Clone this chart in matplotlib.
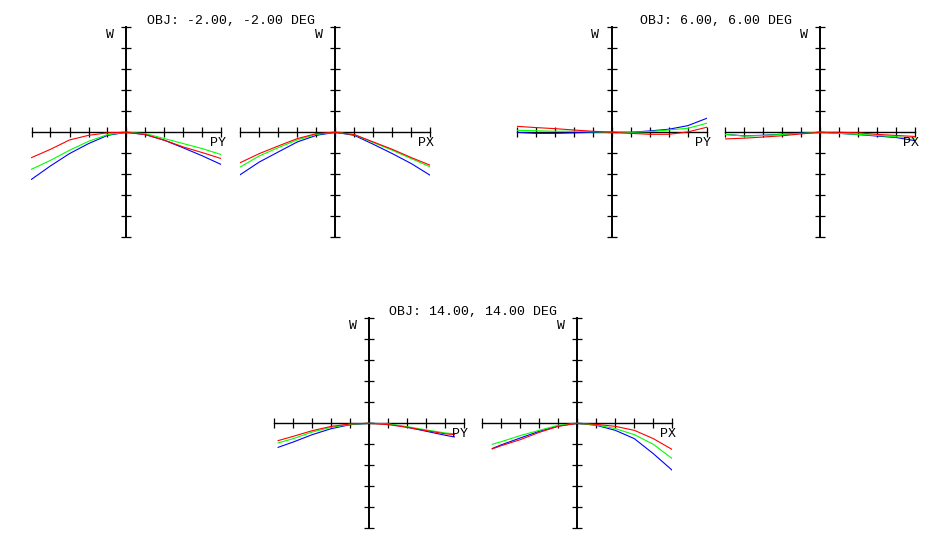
# OPD fan plot (W vs PY / PX) for three field angles

import matplotlib.pyplot as plt
import numpy as np

# field titles
titles = ["OBJ: -2.00, -2.00 DEG", "OBJ: 6.00, 6.00 DEG", "OBJ: 14.00, 14.00 DEG"]

# pupil coordinates
pupil = np.array([-1.0, -0.8, -0.6, -0.4, -0.2, 0.0, 0.2, 0.4, 0.6, 0.8, 1.0])
pupil_14_py = np.array([-0.96, -0.8, -0.6, -0.4, -0.2, 0.0, 0.2, 0.4, 0.6, 0.8, 0.895])
pupil_14_px = np.array([-0.895, -0.8, -0.6, -0.4, -0.2, 0.0, 0.2, 0.4, 0.6, 0.8, 1.0])

# W values (axis full scale = 1)
# -2 deg
py_m2_red = [-0.241, -0.162, -0.073, -0.029, -0.005, 0, -0.022, -0.076, -0.140, -0.194, -0.251]
py_m2_green = [-0.352, -0.267, -0.171, -0.086, -0.022, 0, -0.013, -0.060, -0.108, -0.156, -0.213]
py_m2_blue = [-0.448, -0.320, -0.203, -0.108, -0.029, 0, -0.022, -0.076, -0.149, -0.225, -0.308]
px_m2_red = [-0.289, -0.203, -0.130, -0.060, -0.013, 0, -0.022, -0.092, -0.162, -0.241, -0.314]
px_m2_green = [-0.330, -0.225, -0.146, -0.073, -0.019, 0, -0.022, -0.098, -0.171, -0.251, -0.330]
px_m2_blue = [-0.403, -0.283, -0.187, -0.092, -0.029, 0, -0.029, -0.114, -0.203, -0.298, -0.410]
# 6 deg
py_6_red = [0.057, 0.045, 0.035, 0.022, 0.010, 0, -0.010, -0.019, -0.019, 0.003, 0.048]
py_6_green = [0.019, 0.015, 0.010, 0.010, 0.005, 0, 0.0, 0.007, 0.022, 0.038, 0.086]
py_6_blue = [0.0, -0.010, -0.010, -0.005, 0.0, 0, 0.0, 0.013, 0.029, 0.063, 0.133]
px_6_red = [-0.063, -0.056, -0.045, -0.033, -0.015, 0, 0.0, -0.005, -0.020, -0.030, -0.040]
px_6_green = [-0.020, -0.036, -0.030, -0.020, -0.010, 0, -0.010, -0.020, -0.030, -0.043, -0.054]
px_6_blue = [-0.020, -0.034, -0.028, -0.018, -0.008, 0, -0.010, -0.022, -0.036, -0.050, -0.080]
# 14 deg
py_14_red = [-0.165, -0.124, -0.070, -0.029, -0.006, 0, -0.013, -0.038, -0.070, -0.100, -0.108]
py_14_green = [-0.187, -0.146, -0.083, -0.038, -0.010, 0, -0.006, -0.032, -0.063, -0.092, -0.100]
py_14_blue = [-0.229, -0.178, -0.108, -0.051, -0.013, 0, -0.006, -0.038, -0.076, -0.114, -0.130]
px_14_red = [-0.244, -0.213, -0.156, -0.086, -0.029, 0, -0.010, -0.029, -0.067, -0.146, -0.250]
px_14_green = [-0.200, -0.175, -0.117, -0.067, -0.019, 0, -0.016, -0.050, -0.108, -0.200, -0.337]
px_14_blue = [-0.240, -0.205, -0.140, -0.076, -0.025, 0, -0.019, -0.067, -0.146, -0.289, -0.448]

fans = [
    (pupil, py_m2_blue, py_m2_green, py_m2_red, "PY"),
    (pupil, px_m2_blue, px_m2_green, px_m2_red, "PX"),
    (pupil, py_6_blue, py_6_green, py_6_red, "PY"),
    (pupil, px_6_blue, px_6_green, px_6_red, "PX"),
    (pupil_14_py, py_14_blue, py_14_green, py_14_red, "PY"),
    (pupil_14_px, px_14_blue, px_14_green, px_14_red, "PX"),
]

# layout in pixels (centre of each fan's axes)
W, H = 945, 550
centres = [(126.5, 132.3), (335.3, 132.3), (611.7, 132.3), (820.3, 132.3),
           (369.3, 423.3), (577.3, 423.3)]
hw, hh = 95, 105

font = dict(family="Liberation Mono", fontsize=9.5)

fig = plt.figure(figsize=(9.45, 5.5), dpi=100)

for (cx, cy), (p, b, g, r, xlab) in zip(centres, fans):
    ax = fig.add_axes([(cx - hw) / W, 1 - (cy + hh) / H, 2 * hw / W, 2 * hh / H])
    ax.set_xlim(-1, 1)
    ax.set_ylim(-1, 1)
    ax.patch.set_visible(False)
    for s in ['top', 'right']:
        ax.spines[s].set_visible(False)
    for s in ['left', 'bottom']:
        ax.spines[s].set_position('zero')
    ax.spines['left'].set_linewidth(1.4)
    ax.spines['bottom'].set_linewidth(1.0)
    ticks = np.linspace(-1, 1, 11)
    ax.set_xticks(ticks)
    ax.set_yticks(ticks)
    ax.tick_params(direction='inout', length=7.5, width=0.9,
                   labelbottom=False, labelleft=False)
    ax.plot(p, b, color='#0000ff', lw=0.8, zorder=3)
    ax.plot(p, g, color='#00ff00', lw=0.8, zorder=3)
    ax.plot(p, r, color='#ff0000', lw=0.8, zorder=3)
    ax.text(0.413, 0.962, "W", transform=ax.transAxes, ha='center', va='center', **font)
    ax.text(0.979, 0.448, xlab, transform=ax.transAxes, ha='center', va='center', **font)

# titles between each PY/PX pair
for i, t in enumerate(titles):
    (x1, y1), (x2, _) = centres[2 * i], centres[2 * i + 1]
    fig.text((x1 + x2) / 2 / W, 1 - (y1 - hh - 6) / H, t, ha='center', va='center', **font)

plt.savefig("out.png", dpi=100)
plt.close()
